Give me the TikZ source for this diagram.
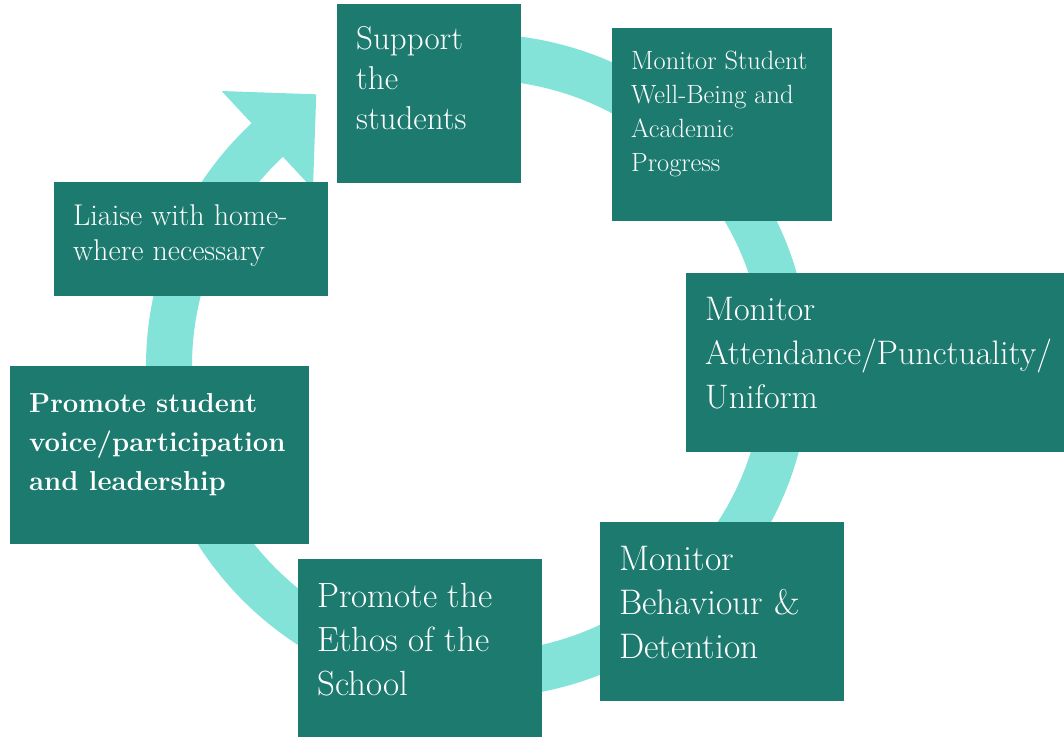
\documentclass[tikz,border=0pt]{standalone}
\usepackage{fontspec}
\usepackage{tikz}
\usetikzlibrary{calc,positioning}
\definecolor{tealdark}{RGB}{28,122,111}
\definecolor{tealring}{RGB}{132,227,216}

\begin{document}
\begin{tikzpicture}[x=1pt,y=1pt,
        tile/.style={fill=tealdark,draw=none,anchor=north west,inner sep=0pt},
        caption/.style={anchor=north west,text=white,align=left,inner xsep=19pt,inner ysep=17pt}]
    \useasboundingbox (0,0) rectangle (1064,-737);
    \coordinate (c) at (478,-366);
    % ring and head
    \draw[tealring,line width=46pt] ($(c)+(100:309pt)$) arc[start angle=100,end angle=-228,radius=309pt];
    \fill[tealring] ($(c)+(133:376pt)$) -- ($(c)+(133:242pt)$) -- ($(c)+(133:309pt)+(43:67pt)$) -- cycle;
    % tiles
    \node[tile,minimum width=184pt,minimum height=179pt] (support) at (337,-4) {};
    \node[tile,minimum width=220pt,minimum height=193pt] (wellbeing) at (612,-28) {};
    \node[tile,minimum width=378pt,minimum height=179pt] (attendance) at (686,-273) {};
    \node[tile,minimum width=244pt,minimum height=179pt] (behaviour) at (600,-522) {};
    \node[tile,minimum width=244pt,minimum height=178pt] (ethos) at (298,-559) {};
    \node[tile,minimum width=299pt,minimum height=178pt] (voice) at (10,-366) {};
    \node[tile,minimum width=274pt,minimum height=114pt] (liaise) at (54,-182) {};
    % texts
    \node[caption,font=\fontsize{33pt}{40pt}\selectfont] (support-t) at (support.north west) {\strut Support\\the\\students};
    \node[caption,font=\fontsize{26.4pt}{34pt}\selectfont] (wellbeing-t) at (wellbeing.north west) {\strut Monitor Student\\Well-Being and\\Academic\\Progress};
    \node[caption,font=\fontsize{34pt}{44pt}\selectfont,inner ysep=16pt] (attendance-t) at (attendance.north west) {\strut Monitor\\Attendance/Punctuality/\\Uniform};
    \node[caption,font=\fontsize{35.5pt}{44pt}\selectfont] (behaviour-t) at (behaviour.north west) {\strut Monitor\\Behaviour \&\\Detention};
    \node[caption,font=\fontsize{35pt}{44pt}\selectfont] (ethos-t) at (ethos.north west) {\strut Promote the\\Ethos of the\\School};
    \node[caption,font=\fontsize{27.5pt}{39pt}\selectfont\bfseries,inner ysep=19pt] (voice-t) at (voice.north west) {\strut Promote student\\voice/participation\\and leadership};
    \node[caption,font=\fontsize{30pt}{35pt}\selectfont,inner ysep=19pt] (liaise-t) at (liaise.north west) {\strut Liaise with home-\\where necessary};
\end{tikzpicture}
\end{document}
